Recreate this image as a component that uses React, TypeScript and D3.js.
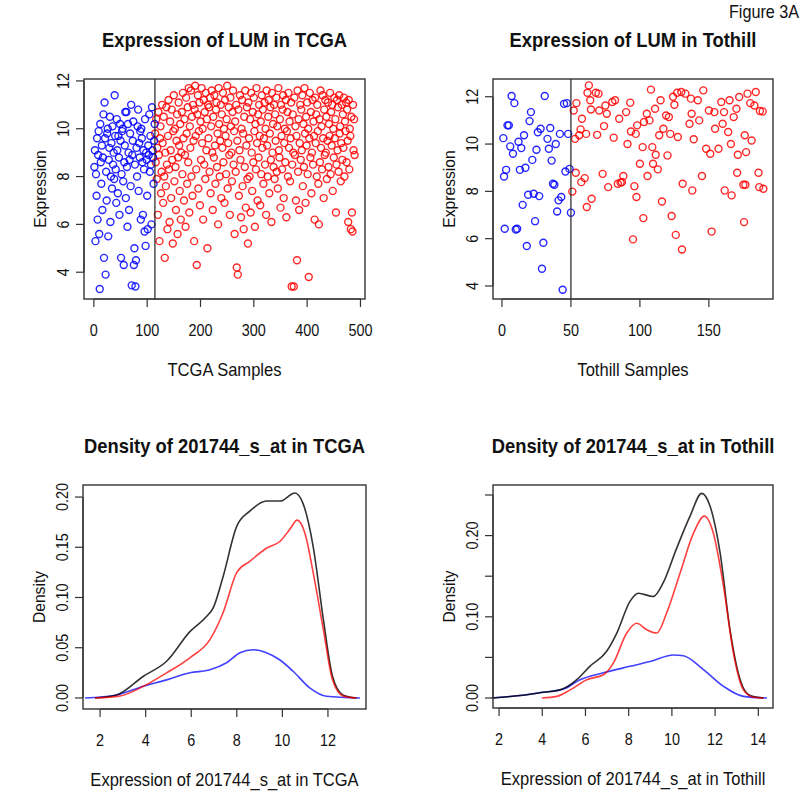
import React from 'react';
import * as d3 from 'd3';

// TCGA expression, sample index = position (blue 1..114, red 115..489)
const tcgaBlue = [
  8.4, 9.1, 5.3, 8.1, 7.2, 9.6, 6.2, 8.9, 9.9, 5.6,
  3.3, 10.2, 8.6, 7.7, 9.3, 6.6, 8.8, 10.6, 4.6, 11.1,
  9.6, 3.9, 8.2, 7.0, 9.8, 10.0, 5.5, 8.7, 9.2, 10.5,
  6.1, 8.0, 9.4, 7.5, 10.1, 8.5, 9.0, 7.9, 11.4, 9.7,
  8.3, 6.9, 10.4, 9.1, 7.3, 9.7, 8.8, 6.4, 10.2, 9.5,
  4.6, 8.1, 9.9, 10.0, 7.8, 4.3, 8.6, 9.3, 10.7, 7.1,
  10.7, 8.4, 5.9, 10.2, 9.0, 6.6, 8.7, 9.8, 7.6, 11.0,
  3.45, 8.9, 9.5, 10.3, 4.3, 5.0, 8.5, 3.4, 4.5, 9.2,
  8.0, 10.1, 10.8, 7.4, 9.4, 8.8, 9.9, 6.2, 10.0, 9.6,
  8.6, 6.4, 9.1, 8.3, 5.7, 10.4, 5.1, 9.0, 8.7, 7.2,
  5.8, 9.3, 8.9, 10.6, 8.2, 9.7, 8.5, 6.0, 10.9, 9.1, 8.8, 7.7, 9.5, 10.2,
];
const tcgaRed = [
  9.8, 8.6, 10.4, 7.9, 9.2, 6.4, 10.7, 8.9, 5.3, 9.6, 10.1, 7.3, 8.2, 11.0, 9.4, 6.9, 10.5, 8.0, 4.6, 9.0, 7.6, 10.9, 8.5, 5.8, 9.7,
  11.2, 8.3, 6.1, 10.3, 9.1, 7.1, 10.8, 8.7, 5.2, 9.9, 11.4, 7.8, 10.0, 8.4, 6.6, 9.5, 10.6, 5.6, 8.8, 11.1, 9.3, 7.4, 10.2, 6.2, 9.0,
  10.7, 8.1, 11.5, 9.6, 7.0, 10.4, 8.9, 5.9, 11.3, 9.8, 7.7, 10.9, 8.6, 11.7, 6.5, 10.1, 9.2, 11.6, 8.0, 10.5, 7.2, 11.0, 9.5, 5.3, 10.8,
  11.8, 9.7, 8.3, 4.3, 10.6, 11.4, 7.5, 9.9, 11.1, 6.8, 10.3, 8.7, 11.7, 9.4, 10.0, 6.2, 11.2, 8.5, 10.7, 7.9, 11.5, 9.1, 10.4, 5.0, 11.0,
  9.6, 10.9, 8.2, 11.3, 7.3, 10.1, 11.6, 9.0, 6.6, 10.5, 8.8, 11.4, 9.3, 7.7, 10.8, 11.1, 8.4, 9.8, 6.0, 11.7, 10.2, 8.0, 9.5, 11.0, 7.1,
  10.6, 9.2, 11.5, 8.6, 10.0, 6.9, 11.2, 9.7, 8.1, 10.4, 11.8, 7.5, 9.4, 10.9, 8.9, 6.4, 11.3, 10.1, 9.0, 7.8, 10.7, 11.6, 8.5, 9.9, 5.6,
  10.3, 8.2, 11.0, 4.2, 9.5, 3.9, 10.8, 7.2, 9.1, 11.4, 8.7, 6.3, 10.0, 11.2, 7.6, 9.8, 5.8, 10.5, 8.4, 11.6, 6.7, 9.3, 10.9, 7.9, 5.2,
  11.1, 9.6, 8.0, 10.4, 6.5, 11.5, 9.0, 7.4, 10.7, 8.6, 11.3, 9.9, 5.9, 10.2, 8.3, 11.7, 9.4, 7.0, 10.6, 8.8, 11.0, 9.7, 6.8, 10.3, 8.1,
  11.4, 9.2, 10.8, 7.7, 9.6, 11.1, 8.5, 10.0, 6.4, 11.6, 9.3, 8.0, 10.5, 11.2, 7.3, 9.8, 10.9, 8.7, 6.1, 11.5, 9.0, 10.2, 8.4, 11.0, 7.9,
  10.6, 9.5, 11.3, 8.2, 10.1, 7.5, 11.7, 9.1, 8.8, 10.4, 6.7, 11.0, 9.7, 8.3, 10.8, 11.4, 7.1, 9.4, 10.0, 8.6, 11.2, 6.3, 9.9, 10.7, 8.0,
  11.5, 9.2, 10.3, 7.8, 9.6, 11.1, 3.4, 8.5, 10.6, 9.0, 3.4, 11.3, 8.9, 10.1, 7.0, 9.7, 4.5, 11.6, 8.2, 10.4, 6.6, 9.4, 11.0, 8.7, 10.8,
  9.1, 11.4, 7.6, 10.2, 8.4, 11.7, 9.8, 6.9, 10.5, 9.3, 11.1, 8.1, 10.0, 3.8, 9.6, 11.5, 8.8, 10.7, 7.3, 9.0, 11.2, 8.5, 10.3, 9.7, 6.2,
  11.3, 9.4, 10.6, 8.0, 11.0, 9.9, 7.7, 6.0, 10.4, 8.6, 11.6, 9.2, 10.1, 8.3, 11.4, 9.6, 7.1, 10.8, 8.9, 11.2, 9.0, 10.5, 7.9, 9.5, 11.1,
  8.4, 10.2, 9.7, 11.5, 8.1, 10.7, 9.3, 11.0, 7.4, 10.0, 8.8, 11.3, 9.6, 10.4, 6.5, 8.5, 11.2, 9.1, 10.9, 8.2, 11.4, 9.8, 10.1, 7.8, 9.4,
  11.0, 8.7, 10.6, 9.2, 11.3, 8.0, 10.3, 9.9, 11.1, 8.6, 10.8, 9.5, 6.1, 11.2, 8.3, 10.0, 9.7, 5.8, 10.5, 6.5, 5.7, 11.0, 9.1, 10.4, 8.9,
];
const tcgaCut = 114.5;

// Tothill expression: [sample index, value]
const tothillBlue: [number, number][] = [
  [1, 10.25], [2, 6.42], [3, 8.91], [4, 10.79], [5, 10.79], [6, 9.9], [7, 12.03], [8, 9.59], [9, 11.73], [10, 6.39],
  [11, 6.42], [12, 10.1], [13, 8.91], [14, 9.83], [15, 7.43], [16, 10.37], [17, 9.0], [18, 5.69], [19, 7.86], [20, 10.97],
  [21, 11.35], [22, 9.33], [23, 7.9], [24, 6.74], [25, 9.76], [26, 10.5], [27, 7.8], [28, 10.65], [29, 4.73], [30, 5.83],
  [31, 12.03], [33, 10.22], [34, 9.8], [35, 10.68], [36, 9.3], [37, 8.32], [38, 8.28], [39, 10.0], [40, 7.15], [41, 7.62],
  [42, 10.43], [43, 7.76], [44, 3.84], [45, 11.7], [46, 8.84], [47, 11.73], [48, 10.43], [49, 8.95], [50, 7.1], [1.5, 8.63],
];
const tothillRed: [number, number][] = [
  [51, 7.99], [52, 11.42], [53, 10.22], [53.5, 8.79], [54, 11.73], [56, 10.37], [57, 10.62], [57.5, 8.39], [58, 11.07], [60, 8.56],
  [61, 10.43], [61.5, 7.34], [62, 12.17], [63, 12.48], [64, 11.85], [64.5, 11.46], [65, 7.69], [68, 12.17], [69, 10.39], [70, 12.13],
  [70.5, 11.42], [73, 8.74], [74, 10.76], [75, 11.63], [76, 11.28], [77, 8.18], [80, 11.78], [81, 10.27], [82, 11.85], [84, 8.32],
  [85, 11.07], [86, 8.37], [87, 8.39], [88, 8.65], [90, 11.35], [91, 10.0], [93, 11.75], [93.5, 10.53], [95, 5.97], [96, 8.22],
  [97, 10.43], [97.5, 7.76], [98, 10.79], [100, 9.17], [102, 9.87], [102.5, 6.87], [103, 10.93], [105, 11.28], [105.5, 8.65], [107, 11.0],
  [108, 12.3], [109, 9.87], [109.5, 9.17], [111, 11.49], [111.5, 9.55], [113, 8.93], [114, 10.37], [115, 11.85], [116, 7.57], [117, 10.65],
  [119, 11.21], [120, 9.52], [121, 11.14], [122, 10.43], [123, 6.96], [124, 12.0], [125, 11.66], [126, 6.16], [127, 12.17], [127.5, 10.3],
  [130, 12.2], [130.5, 5.54], [131, 8.32], [133, 12.13], [136, 10.86], [137, 11.92], [137.5, 11.28], [138, 8.04], [139, 10.2], [142, 11.85],
  [143, 11.0], [145, 8.65], [146, 12.27], [148, 9.8], [150, 11.42], [151, 9.59], [152, 6.3], [154, 11.35], [154.5, 10.65], [157, 9.8],
  [159, 11.78], [160, 10.86], [161, 11.35], [161.5, 8.04], [164, 10.51], [165, 11.85], [166, 10.0], [166.5, 7.83], [168, 11.14], [170, 11.49],
  [170.5, 8.79], [171, 9.55], [172, 11.99], [175, 8.28], [175.5, 6.7], [176, 10.37], [176.5, 8.28], [177, 9.66], [178, 12.13], [180, 11.73],
  [181, 10.15], [183, 11.63], [184, 12.2], [186, 8.79], [186.5, 8.18], [187, 11.4], [189, 11.38], [189.5, 8.11],
];
const tothillCut = 50;

// density curves: [expression, density]
const tcgaAll: [number, number][] = [
  [1.78, 0], [2.73, 0.003], [3.9, 0.0216], [4.92, 0.0365], [5.94, 0.066], [6.67, 0.081], [6.97, 0.09], [7.4, 0.121],
  [8.0, 0.171], [8.57, 0.186], [9.3, 0.196], [9.9, 0.196], [10.55, 0.204], [10.9, 0.194], [11.35, 0.151], [11.8, 0.078],
  [12.2, 0.0216], [12.66, 0.003], [13.25, 0],
];
const tcgaHigh: [number, number][] = [
  [1.78, 0], [2.88, 0.002], [3.9, 0.0116], [4.92, 0.025], [5.94, 0.04], [6.82, 0.058], [7.4, 0.085], [8.0, 0.125],
  [8.57, 0.136], [9.3, 0.149], [9.9, 0.156], [10.33, 0.168], [10.65, 0.177], [10.99, 0.164], [11.35, 0.125], [11.8, 0.068],
  [12.2, 0.018], [12.66, 0.002], [13.25, 0],
];
const tcgaLow: [number, number][] = [
  [1.34, 0], [2.73, 0.003], [3.9, 0.0116], [4.92, 0.018], [5.94, 0.025], [6.82, 0.028], [7.55, 0.035], [8.14, 0.045],
  [8.72, 0.048], [9.3, 0.045], [9.88, 0.038], [10.47, 0.0266], [11.2, 0.01], [11.94, 0.0017], [13.4, 0],
];
const tothillAll: [number, number][] = [
  [1.66, 0], [2.97, 0.003], [4.05, 0.007], [4.82, 0.01], [5.6, 0.0226], [6.2, 0.039], [6.98, 0.0575], [7.45, 0.08],
  [8.06, 0.119], [8.45, 0.129], [9.14, 0.125], [9.6, 0.142], [10.2, 0.183], [10.84, 0.224], [11.38, 0.252], [11.77, 0.236],
  [12.23, 0.179], [12.69, 0.084], [13.16, 0.0226], [13.62, 0.003], [14.24, 0],
];
const tothillHigh: [number, number][] = [
  [3.98, 0], [4.67, 0.002], [5.29, 0.01], [6.06, 0.0226], [6.83, 0.0287], [7.29, 0.043], [7.91, 0.08], [8.37, 0.092],
  [8.84, 0.084], [9.3, 0.08], [9.76, 0.105], [10.38, 0.154], [11.0, 0.203], [11.5, 0.224], [11.92, 0.203], [12.39, 0.1375],
  [12.85, 0.055], [13.31, 0.01], [13.78, 0.001], [14.24, 0],
];
const tothillLow: [number, number][] = [
  [1.66, 0], [2.97, 0.003], [4.05, 0.007], [4.98, 0.011], [5.75, 0.0226], [6.83, 0.031], [8.06, 0.039], [8.99, 0.045],
  [10.07, 0.053], [10.53, 0.052], [11.46, 0.035], [12.39, 0.0144], [13.31, 0.002], [14.4, 0],
];

const tcgaXTicks = [0, 100, 200, 300, 400, 500];
const tothillXTicks = [0, 50, 100, 150];
const exprYTicks = [4, 6, 8, 10, 12];
const densTcgaXTicks = [2, 4, 6, 8, 10, 12];
const densTothillXTicks = [2, 4, 6, 8, 10, 12, 14];
const densTcgaYTicks = [0, 0.05, 0.1, 0.15, 0.2];
const densTothillYTicks = [0, 0.05, 0.1, 0.15, 0.2, 0.25];
const densTothillYLabels = [0, 0.1, 0.2];

const FONT = '"Liberation Sans", Arial, sans-serif';
const BLUE = '#0000ff';
const RED = '#ff0000';

type Box = { left: number; right: number; top: number; bottom: number };

// narrow-looking text: squeeze horizontally
function NText({ x, y, rot, size, sx, bold, children }: any) {
  return (
    <text transform={`translate(${x},${y})${rot ? ` rotate(${rot})` : ''} scale(${sx},1)`}
      fontSize={size} fontWeight={bold ? 'bold' : 'normal'} textAnchor="middle">{children}</text>
  );
}

function Frame({ box, x, y, xTicks, yTicks, yLabels, fmtY, title, xTitle, yTitle }: any) {
  const cx = (box.left + box.right) / 2;
  const cy = (box.top + box.bottom) / 2;
  const shownY = yLabels || yTicks;
  return (
    <g fontFamily={FONT} fill="#111">
      <rect x={box.left} y={box.top} width={box.right - box.left} height={box.bottom - box.top}
        fill="none" stroke="#333" strokeWidth={1.4} />
      <line x1={x(xTicks[0])} x2={x(xTicks[xTicks.length - 1])} y1={box.bottom} y2={box.bottom} stroke="#333" strokeWidth={1.2} />
      {xTicks.map((t: number) => (
        <g key={'x' + t}>
          <line x1={x(t)} x2={x(t)} y1={box.bottom} y2={box.bottom + 8} stroke="#333" strokeWidth={1.2} />
          <NText x={x(t)} y={box.bottom + 37} size={16} sx={0.9}>{t}</NText>
        </g>
      ))}
      <line x1={box.left} x2={box.left} y1={y(yTicks[0])} y2={y(yTicks[yTicks.length - 1])} stroke="#333" strokeWidth={1.2} />
      {yTicks.map((t: number) => (
        <line key={'y' + t} x1={box.left - 8} x2={box.left} y1={y(t)} y2={y(t)} stroke="#333" strokeWidth={1.2} />
      ))}
      {shownY.map((t: number) => (
        <NText key={'yl' + t} x={box.left - 15} y={y(t)} rot={-90} size={16} sx={0.9}>
          {fmtY ? fmtY(t) : t}
        </NText>
      ))}
      <NText x={cx} y={box.top - 32} size={20} sx={0.92} bold>{title}</NText>
      <NText x={cx} y={box.bottom + 77} size={18} sx={0.92}>{xTitle}</NText>
      <NText x={box.left - 38} y={cy} rot={-90} size={17} sx={0.92}>{yTitle}</NText>
    </g>
  );
}

function Scatter({ box, xDomain, yDomain, low, high, cut, xTicks, title, xTitle }: any) {
  const x = d3.scaleLinear().domain(xDomain).range([box.left, box.right]);
  const y = d3.scaleLinear().domain(yDomain).range([box.bottom, box.top]);
  return (
    <g>
      {high.map((d: [number, number], i: number) => (
        <circle key={'h' + i} cx={x(d[0])} cy={y(d[1])} r={3.5} fill="none" stroke={RED} strokeWidth={1.4} strokeOpacity={0.85} />
      ))}
      {low.map((d: [number, number], i: number) => (
        <circle key={'l' + i} cx={x(d[0])} cy={y(d[1])} r={3.5} fill="none" stroke={BLUE} strokeWidth={1.4} strokeOpacity={0.85} />
      ))}
      <line x1={x(cut)} x2={x(cut)} y1={box.top} y2={box.bottom} stroke="#222" strokeWidth={1.2} />
      <Frame box={box} x={x} y={y} xTicks={xTicks} yTicks={exprYTicks} title={title} xTitle={xTitle} yTitle="Expression" />
    </g>
  );
}

function Density({ box, xDomain, yDomain, all, high, low, xTicks, yTicks, yLabels, title, xTitle }: any) {
  const x = d3.scaleLinear().domain(xDomain).range([box.left, box.right]);
  const y = d3.scaleLinear().domain(yDomain).range([box.bottom, box.top]);
  const line = d3.line<[number, number]>().x((d) => x(d[0])).y((d) => y(d[1])).curve(d3.curveMonotoneX);
  return (
    <g>
      <path d={line(low) || ''} fill="none" stroke={BLUE} strokeWidth={1.6} strokeOpacity={0.75} />
      <path d={line(all) || ''} fill="none" stroke="#000" strokeWidth={1.6} strokeOpacity={0.8} />
      <path d={line(high) || ''} fill="none" stroke={RED} strokeWidth={1.6} strokeOpacity={0.75} />
      <Frame box={box} x={x} y={y} xTicks={xTicks} yTicks={yTicks} yLabels={yLabels}
        fmtY={(v: number) => v.toFixed(2)} title={title} xTitle={xTitle} yTitle="Density" />
    </g>
  );
}

export default function App() {
  const tcgaLowPts = tcgaBlue.map((v, i) => [i + 1, v]);
  const tcgaHighPts = tcgaRed.map((v, i) => [i + 1 + tcgaBlue.length, v]);
  const b1: Box = { left: 84, right: 365, top: 79, bottom: 299 };
  const b2: Box = { left: 493, right: 773, top: 79, bottom: 299 };
  const b3: Box = { left: 83, right: 366, top: 485, bottom: 709 };
  const b4: Box = { left: 493, right: 773, top: 485, bottom: 708 };
  return (
    <svg width={800} height={796} style={{ position: 'absolute', left: 0, top: 0, background: '#fff' }}>
      <rect width={800} height={796} fill="#fff" />
      <g fontFamily={FONT} fill="#111">
        <NText x={764} y={18} size={18} sx={0.9}>Figure 3A</NText>
      </g>
      <Scatter box={b1} xDomain={[-18.5, 508.5]} yDomain={[2.88, 12.08]} low={tcgaLowPts} high={tcgaHighPts}
        cut={tcgaCut} xTicks={tcgaXTicks} title="Expression of LUM in TCGA" xTitle="TCGA Samples" />
      <Scatter box={b2} xDomain={[-6.5, 196.5]} yDomain={[3.45, 12.75]} low={tothillBlue} high={tothillRed}
        cut={tothillCut} xTicks={tothillXTicks} title="Expression of LUM in Tothill" xTitle="Tothill Samples" />
      <Density box={b3} xDomain={[1.25, 13.67]} yDomain={[-0.011, 0.212]} all={tcgaAll} high={tcgaHigh} low={tcgaLow}
        xTicks={densTcgaXTicks} yTicks={densTcgaYTicks} title="Density of 201744_s_at in TCGA"
        xTitle="Expression of 201744_s_at in TCGA" />
      <Density box={b4} xDomain={[1.72, 14.68]} yDomain={[-0.0123, 0.2623]} all={tothillAll} high={tothillHigh} low={tothillLow}
        xTicks={densTothillXTicks} yTicks={densTothillYTicks} yLabels={densTothillYLabels}
        title="Density of 201744_s_at in Tothill" xTitle="Expression of 201744_s_at in Tothill" />
    </svg>
  );
}
